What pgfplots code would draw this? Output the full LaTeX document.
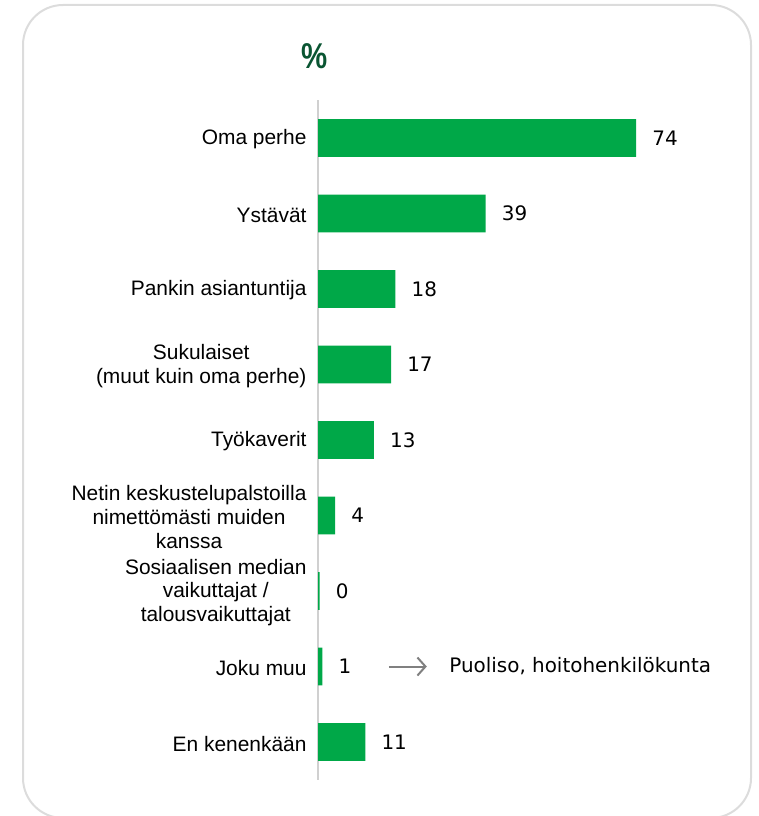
\documentclass[border=0pt]{standalone}
\usepackage{fontspec}
\setmainfont{Liberation Sans}
\newfontfamily\valfont{DejaVu Sans}
\usepackage{pgfplots}
\pgfplotsset{compat=1.18}
\usetikzlibrary{arrows.meta}
\definecolor{opgreen}{RGB}{0,168,72}
\definecolor{opdark}{RGB}{10,85,50}
\definecolor{framegray}{RGB}{220,220,220}
\definecolor{axisgray}{RGB}{208,208,208}
\definecolor{arrowgray}{RGB}{128,128,128}
\begin{document}
\begin{tikzpicture}[x=1bp,y=1bp]
\path[use as bounding box] (0,0) rectangle (759,-816);
\draw[framegray, line width=2bp, rounded corners=40bp] (23,-5) rectangle (751,-818);
\node[font=\fontsize{36}{40}\selectfont\bfseries, text=opdark, xscale=0.82] at (315,-56) {\%};
\begin{axis}[
  at={(318bp,-100.25bp)}, anchor=north west,
  scale only axis, width=430bp, height=679.5bp,
  xmin=0, xmax=100, ymin=-0.5, ymax=8.5, y dir=reverse,
  axis x line=none, axis y line=left,
  axis line style={axisgray, line width=1.5bp, -},
  xtick=\empty,
  ytick={0,1,2,3,4,5,6,7,8},
  yticklabels={Oma perhe, Ystävät, Pankin asiantuntija, {Sukulaiset\\(muut kuin oma perhe)}, Työkaverit, {Netin keskustelupalstoilla\\nimettömästi muiden\\kanssa}, {Sosiaalisen median\\vaikuttajat /\\talousvaikuttajat}, Joku muu, En kenenkään},
  major tick length=0pt,
  yticklabel style={font=\fontsize{21}{24}\selectfont, align=center, text=black, xshift=-8bp, yshift=-1.5bp},
  clip=false,
  xbar, bar width=0.5,
  nodes near coords, point meta=explicit symbolic,
  nodes near coords style={anchor=west, xshift=16bp, inner sep=0pt, font=\valfont\fontsize{20}{24}\selectfont, text=black},
]
\addplot[fill=opgreen, draw=none] coordinates {
  (74,0) [74]
  (39,1) [39]
  (18,2) [18]
  (17,3) [17]
  (13,4) [13]
  (4,5) [4]
  (0.4,6) [0]
  (1,7) [1]
  (11,8) [11]
};
\draw[arrowgray, line width=2bp, -{Straight Barb[length=8bp, width=18bp]}] (axis cs:16.5,7) -- (axis cs:25.3,7);
\node[anchor=west, inner sep=0pt, font=\valfont\fontsize{20}{24}\selectfont] at (axis cs:30.5,7) {Puoliso, hoitohenkilökunta};
\end{axis}
\end{tikzpicture}
\end{document}
